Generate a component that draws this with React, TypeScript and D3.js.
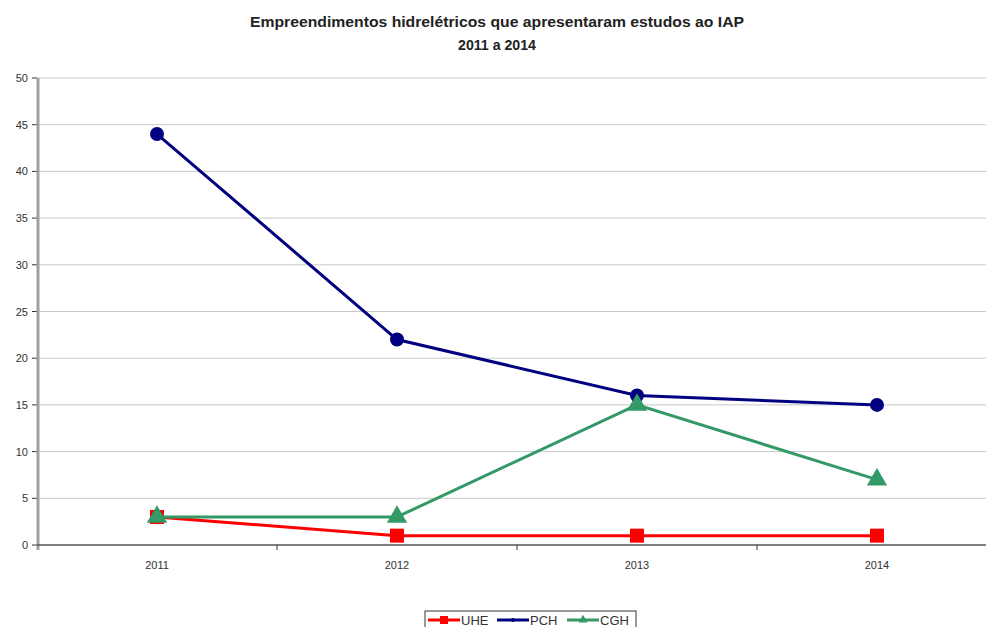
import React from "react";
import * as d3 from "d3";

const years = ["2011", "2012", "2013", "2014"];
const uhe = [3, 1, 1, 1];
const pch = [44, 22, 16, 15];
const cgh = [3, 3, 15, 7];
const yTicks = [0, 5, 10, 15, 20, 25, 30, 35, 40, 45, 50];
const titleLines = ["Empreendimentos hidrelétricos que apresentaram estudos ao IAP", "2011 a 2014"];

const W = 986, H = 627;
const left = 37, top = 78, bottom = 545, bandRight = 997;

export default function App() {
  const x = d3.scaleBand<string>().domain(years).range([left, bandRight]);
  const y = d3.scaleLinear().domain([0, 50]).range([bottom, top]);
  const cx = (i: number) => (x(years[i]) as number) + x.bandwidth() / 2;
  const line = d3.line<number>().x((_, i) => cx(i)).y((d) => y(d));
  const font = "'Liberation Sans', Arial, sans-serif";

  const series = [
    { name: "UHE", data: uhe, color: "#ff0000", marker: "square" },
    { name: "PCH", data: pch, color: "#000080", marker: "circle" },
    { name: "CGH", data: cgh, color: "#339966", marker: "triangle" },
  ];

  const marker = (m: string, px: number, py: number, color: string, s: number, key: any) => {
    if (m === "square") return <rect key={key} x={px - s / 2} y={py - s / 2} width={s} height={s} fill={color} />;
    if (m === "circle") return <circle key={key} cx={px} cy={py} r={s / 2} fill={color} />;
    const sym = d3.symbol().type(d3.symbolTriangle).size(s * s * 0.7)();
    return <path key={key} d={sym as string} transform={`translate(${px},${py})`} fill={color} />;
  };

  const legendItems = [
    { name: "UHE", color: "#ff0000", marker: "square", x0: 428 },
    { name: "PCH", color: "#000080", marker: "circle", x0: 497 },
    { name: "CGH", color: "#339966", marker: "triangle", x0: 567 },
  ];

  return (
    <svg width={W} height={H} style={{ position: "absolute", left: 0, top: 0, background: "#fff" }}>
      <text x={497} y={27} textAnchor="middle" fontFamily={font} fontSize={15} fontWeight="bold" fill="#222" textLength={494} lengthAdjust="spacingAndGlyphs">{titleLines[0]}</text>
      <text x={497} y={50} textAnchor="middle" fontFamily={font} fontSize={15} fontWeight="bold" fill="#222" textLength={78} lengthAdjust="spacingAndGlyphs">{titleLines[1]}</text>

      {yTicks.map((t) => (
        <g key={t}>
          {t > 0 && <line x1={left} x2={W} y1={y(t)} y2={y(t)} stroke="#c8c8c8" strokeWidth={1} />}
          <line x1={left - 5} x2={left} y1={y(t)} y2={y(t)} stroke="#333" strokeWidth={1} />
          <text x={28} y={y(t) + 4} textAnchor="end" fontFamily={font} fontSize={11} fill="#333">{t}</text>
        </g>
      ))}
      <line x1={left + 1} x2={left + 1} y1={top} y2={bottom + 5} stroke="#a0a0a0" strokeWidth={3} />
      <line x1={left} x2={W} y1={bottom} y2={bottom} stroke="#555" strokeWidth={1.5} />
      {years.slice(0, -1).map((yr) => {
        const bx = (x(yr) as number) + x.bandwidth();
        return <line key={yr} x1={bx} x2={bx} y1={bottom} y2={bottom + 5} stroke="#333" strokeWidth={1} />;
      })}
      {years.map((yr, i) => (
        <text key={yr} x={cx(i)} y={569} textAnchor="middle" fontFamily={font} fontSize={11} fill="#333">{yr}</text>
      ))}

      {series.map((s) => (
        <g key={s.name}>
          <path d={line(s.data) as string} fill="none" stroke={s.color} strokeWidth={3} />
          {s.data.map((v, i) => marker(s.marker, cx(i), y(v), s.color, s.marker === "triangle" ? 16 : 14, i))}
        </g>
      ))}

      <rect x={425} y={611} width={211} height={20} fill="#fff" stroke="#333" strokeWidth={1} />
      {legendItems.map((l) => (
        <g key={l.name}>
          <line x1={l.x0} x2={l.x0 + 32} y1={620} y2={620} stroke={l.color} strokeWidth={3} />
          {marker(l.marker, l.x0 + 16, 620, l.color, l.marker === "square" ? 8 : l.marker === "circle" ? 4 : 7, "m")}
          <text x={l.x0 + 33} y={625} fontFamily={font} fontSize={13} fill="#333">{l.name}</text>
        </g>
      ))}
    </svg>
  );
}
